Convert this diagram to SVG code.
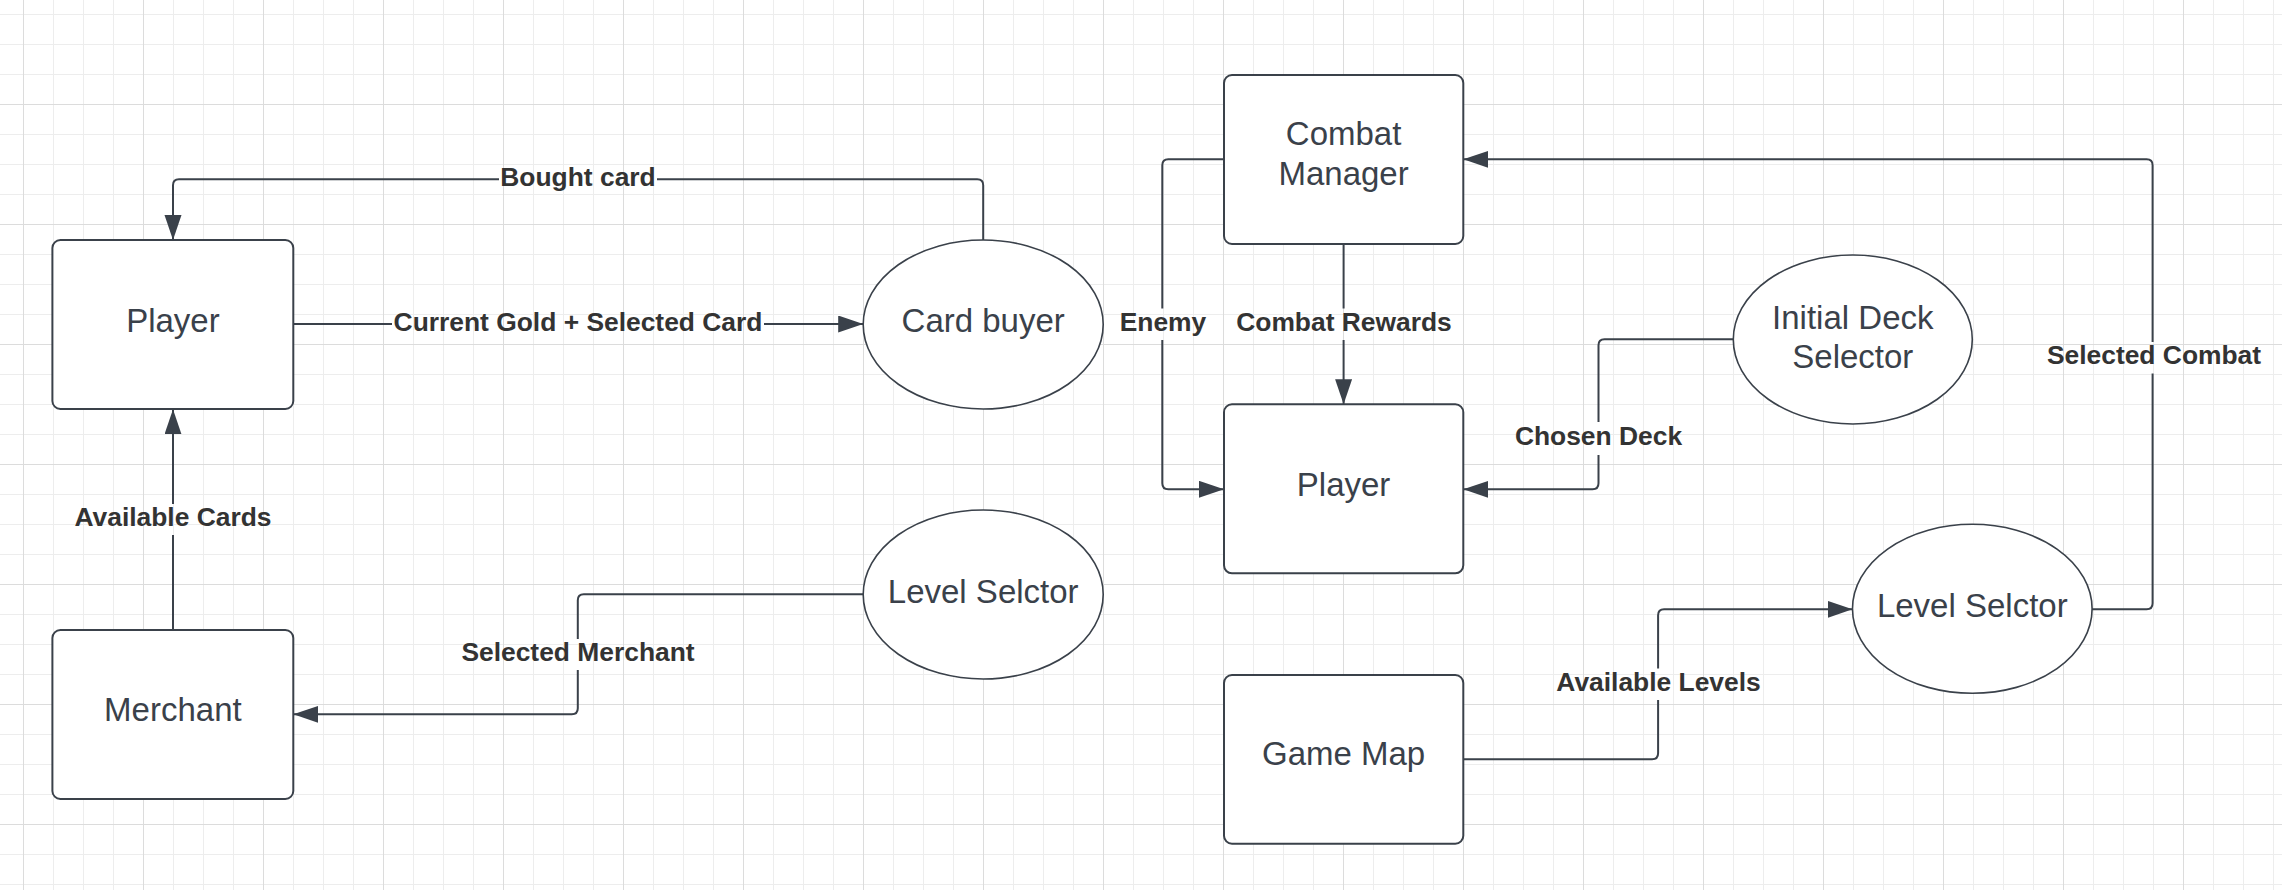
<svg xmlns="http://www.w3.org/2000/svg" width="2282" height="890" viewBox="0 0 2282 890">
<style>
.node rect{fill:#fff;stroke:#3a414a;stroke-width:2}
.node ellipse{fill:#fff;stroke:#3a414a;stroke-width:1.6}
.nt{font-family:"Liberation Sans",Arial,sans-serif;font-size:33px;fill:#3a414a;text-anchor:middle}
.lbl{font-family:"Liberation Sans",Arial,sans-serif;font-size:26.4px;font-weight:bold;fill:#333;text-anchor:middle}
.con{fill:none;stroke:#3a414a;stroke-width:2;marker-end:url(#arr)}
</style>
<defs>
<pattern id="grid" width="120" height="120" patternUnits="userSpaceOnUse" x="23" y="104">
<rect width="120" height="120" fill="#fff"/>
<path d="M30.5 0V120M60.5 0V120M90.5 0V120M0 30.5H120M0 60.5H120M0 90.5H120" stroke="#ededed" stroke-width="1"/>
<path d="M0.5 0V120M0 0.5H120" stroke="#dcdcdc" stroke-width="1"/>
</pattern>
<marker id="arr" markerUnits="userSpaceOnUse" markerWidth="26" markerHeight="18" refX="25" refY="8.5" orient="auto">
<path d="M0 0L25 8.5L0 17Z" fill="#3a414a"/>
</marker>
<mask id="gaps" maskUnits="userSpaceOnUse" x="0" y="0" width="2282" height="890">
<rect width="2282" height="890" fill="#fff"/>
<rect x="499" y="164" width="158" height="31" fill="#000"/>
<rect x="392" y="309" width="372" height="31" fill="#000"/>
<rect x="73" y="504" width="200" height="31" fill="#000"/>
<rect x="460" y="639" width="236" height="31" fill="#000"/>
<rect x="1118" y="308.5" width="89" height="31.5" fill="#000"/>
<rect x="1235" y="308.5" width="218" height="31.5" fill="#000"/>
<rect x="1514" y="422" width="169" height="33" fill="#000"/>
<rect x="1555" y="668.5" width="207" height="31.5" fill="#000"/>
<rect x="2045" y="342" width="216" height="31.5" fill="#000"/>
</mask>
</defs>
<rect width="2282" height="890" fill="url(#grid)"/>
<g id="connectors">
<g mask="url(#gaps)">
<path class="con" d="M983.2 240V185.3Q983.2 179.3 977.2 179.3H179Q173 179.3 173 185.3V240"/>
<path class="con" d="M293.3 324H863.2"/>
<path class="con" d="M173 630V409.3"/>
<path class="con" d="M863.2 594.3H583.8Q577.8 594.3 577.8 600.3V708.3Q577.8 714.3 571.8 714.3H293.3"/>
<path class="con" d="M1224 159.3H1168.3Q1162.3 159.3 1162.3 165.3V483.3Q1162.3 489.3 1168.3 489.3H1224"/>
<path class="con" d="M1343.6 244V404.3"/>
<path class="con" d="M1733.3 339.3H1604.5Q1598.5 339.3 1598.5 345.3V483.3Q1598.5 489.3 1592.5 489.3H1463.3"/>
<path class="con" d="M1463.3 759.3H1652.1Q1658.1 759.3 1658.1 753.3V615.3Q1658.1 609.3 1664.1 609.3H1852.5"/>
<path class="con" d="M2092 609.3H2146.6Q2152.6 609.3 2152.6 603.3V165.3Q2152.6 159.3 2146.6 159.3H1463.3"/>
</g>
<g id="labels">
<text class="lbl" x="578" y="185.5">Bought card</text>
<text class="lbl" x="578" y="330.5">Current Gold + Selected Card</text>
<text class="lbl" x="173" y="525.5">Available Cards</text>
<text class="lbl" x="578" y="660.5">Selected Merchant</text>
<text class="lbl" x="1163" y="330.5">Enemy</text>
<text class="lbl" x="1344" y="330.5">Combat Rewards</text>
<text class="lbl" x="1598.5" y="444.5">Chosen Deck</text>
<text class="lbl" x="1658.5" y="690.5">Available Levels</text>
<text class="lbl" x="2154" y="363.5">Selected Combat</text>
</g>
</g>
<g id="player1" class="node"><rect x="52.4" y="240" width="240.9" height="169" rx="8"/><text class="nt" x="172.9" y="331.7">Player</text></g>
<g id="merchant" class="node"><rect x="52.4" y="630" width="240.9" height="169" rx="8"/><text class="nt" x="172.9" y="721">Merchant</text></g>
<g id="cardbuyer" class="node"><ellipse cx="983.2" cy="324.5" rx="120" ry="84.5"/><text class="nt" x="983.2" y="332.3">Card buyer</text></g>
<g id="levelselector1" class="node"><ellipse cx="983.2" cy="594.5" rx="120" ry="84.5"/><text class="nt" x="983.2" y="602.7">Level Selctor</text></g>
<g id="combatmanager" class="node"><rect x="1224" y="75" width="239.3" height="169" rx="8"/><text class="nt" x="1343.6" y="144.5">Combat</text><text class="nt" x="1343.6" y="184.5">Manager</text></g>
<g id="player2" class="node"><rect x="1224" y="404.3" width="239.3" height="169" rx="8"/><text class="nt" x="1343.6" y="496">Player</text></g>
<g id="gamemap" class="node"><rect x="1224" y="675" width="239.3" height="168.7" rx="8"/><text class="nt" x="1343.6" y="765">Game Map</text></g>
<g id="initialdeck" class="node"><ellipse cx="1852.8" cy="339.5" rx="119.5" ry="84.5"/><text class="nt" x="1852.8" y="328.5">Initial Deck</text><text class="nt" x="1852.8" y="368">Selector</text></g>
<g id="levelselector2" class="node"><ellipse cx="1972.3" cy="608.8" rx="119.8" ry="84.5"/><text class="nt" x="1972.3" y="616.7">Level Selctor</text></g>
</svg>
